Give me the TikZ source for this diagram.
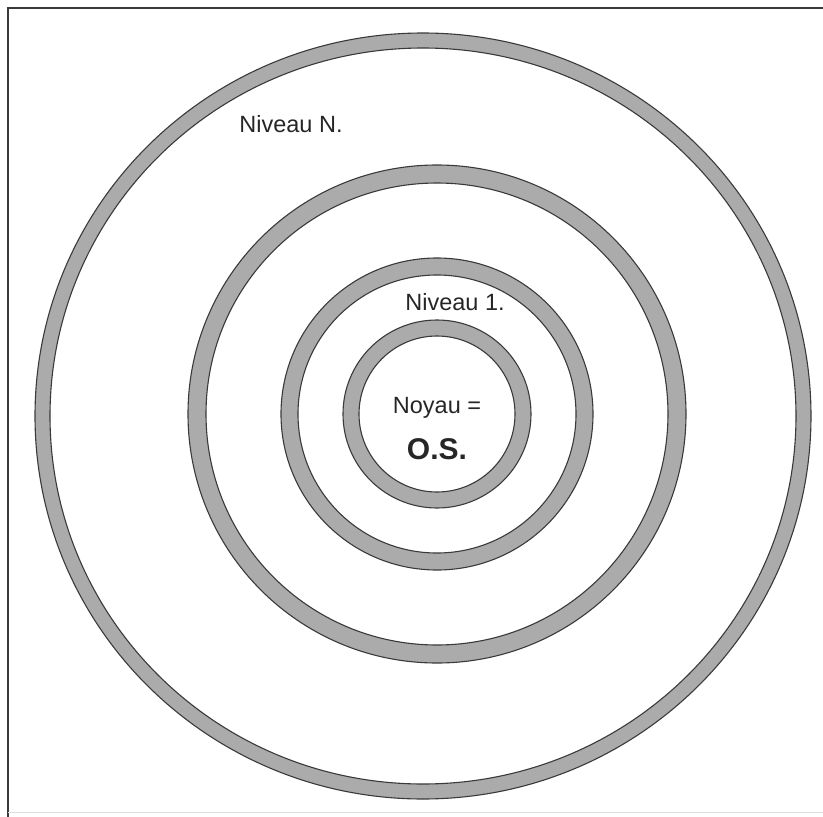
\documentclass[tikz,border=0pt]{standalone}
\usepackage{fontspec}
\setmainfont{Liberation Sans}
\usetikzlibrary{positioning}
\definecolor{ringGray}{HTML}{ABABAB}
\definecolor{ringEdge}{HTML}{3A3A3A}
\definecolor{txtDark}{HTML}{262626}

\begin{document}
\begin{tikzpicture}[x=1pt, y=-1pt,
    ring/.style={fill=ringGray, draw=ringEdge, line width=1.1pt, even odd rule},
    lbl/.style={anchor=base, text=txtDark, inner sep=0pt, font=\fontsize{23.5}{28}\selectfont}]
    \useasboundingbox (0,0) rectangle (823,817);

    % Frame
    \draw[ringEdge, line width=1.2pt] (8,817) -- (8,8) -- (823,8);
    \draw[gray!25, line width=0.8pt] (8,812) -- (823,812);

    % Rings
    \foreach \ro/\ri in {94/78, 156/139, 249/231} {
        \filldraw[ring] (437,414) circle[radius=\ro pt] (437,414) circle[radius=\ri pt];
    }
    \filldraw[ring] (423,416) ellipse[x radius=388pt, y radius=383pt]
                    (423,416) ellipse[x radius=373pt, y radius=368pt];

    % Labels
    \node[lbl] (nivN) at (291,132) {Niveau N.};
    \node[lbl] (niv1) at (455,310) {Niveau 1.};
    \node[lbl] (noyau) at (437,413) {Noyau =};
    \node[lbl, font=\fontsize{30}{34}\selectfont\bfseries] (os) at (437,459) {O.S.};
\end{tikzpicture}
\end{document}
